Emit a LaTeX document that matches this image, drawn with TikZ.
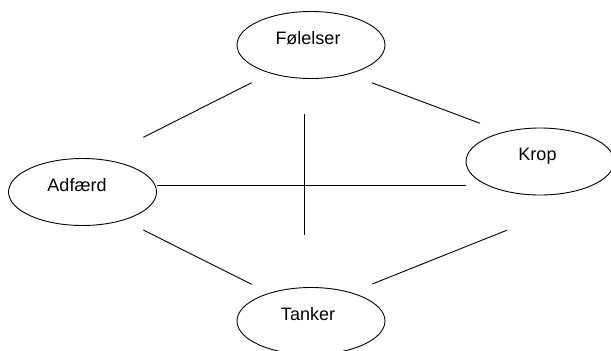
\documentclass[tikz,border=0pt]{standalone}
\usepackage{fontspec}
\setmainfont{Liberation Sans}
\usetikzlibrary{shapes.geometric}
\begin{document}
\begin{tikzpicture}[x=1pt,y=-1pt,
  bubble/.style={draw, ellipse, line width=0.9pt, minimum width=148pt, minimum height=67pt, inner sep=0pt, font=\fontsize{18}{22}\selectfont},
  conn/.style={line width=0.9pt}]
\useasboundingbox (0,0) rectangle (611,351);
\node[bubble] (F) at (311,45) {\raisebox{14pt}{F\o lelser\hspace*{6pt}}};
\node[bubble] (A) at (82.5,192) {\raisebox{14pt}{Adf\ae rd\hspace*{11pt}}};
\node[bubble] (K) at (540,161.5) {\raisebox{14pt}{Krop\hspace*{5pt}}};
\node[bubble] (T) at (311,321) {\raisebox{14pt}{Tanker\hspace*{6pt}}};
\coordinate (fa1) at (251.7,82.7);
\coordinate (fa2) at (143.3,137.3);
\coordinate (fk1) at (371.7,82.7);
\coordinate (fk2) at (480,123.3);
\coordinate (at1) at (143.3,230);
\coordinate (at2) at (251.7,284.3);
\coordinate (tk1) at (372.2,284);
\coordinate (tk2) at (506.7,230.3);
\coordinate (ak1) at (157,185.7);
\coordinate (ak2) at (466,185.7);
\coordinate (v1) at (304.5,114);
\coordinate (v2) at (304.5,235);
\draw[conn] (fa1) -- (fa2);
\draw[conn] (fk1) -- (fk2);
\draw[conn] (at1) -- (at2);
\draw[conn] (tk1) -- (tk2);
\draw[conn] (ak1) -- (ak2);
\draw[conn] (v1) -- (v2);
\end{tikzpicture}
\end{document}
